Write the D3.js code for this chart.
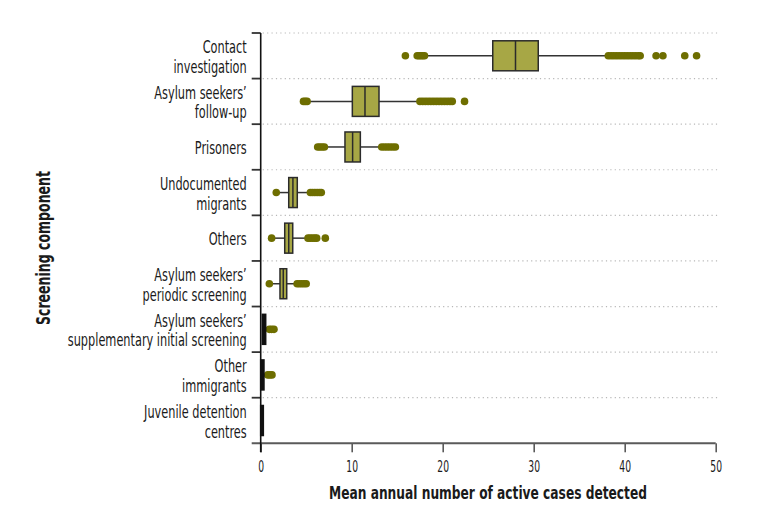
<!DOCTYPE html>
<html>
<head>
<meta charset="utf-8">
<script src="https://cdn.jsdelivr.net/npm/d3@7"></script>
<style>
  body { margin: 0; background: #fff; }
  svg { display: block; }
  text { font-family: "DejaVu Sans Condensed", "DejaVu Sans", sans-serif; fill: #1a1a1a; }
</style>
</head>
<body>
<svg id="chart" width="771" height="524"></svg>
<script>
// ---------- data ----------
const categories = [
  "Contact\ninvestigation",
  "Asylum seekers’\nfollow-up",
  "Prisoners",
  "Undocumented\nmigrants",
  "Others",
  "Asylum seekers’\nperiodic screening",
  "Asylum seekers’\nsupplementary initial screening",
  "Other\nimmigrants",
  "Juvenile detention\ncentres"
];
const whiskerLow  = [18.1, 5.2, 7.0, 1.8, 1.3, 1.0, 0.15, 0.0, 0.0];
const q1          = [25.5, 10.07, 9.26, 3.08, 2.64, 2.12, 0.18, 0.0, 0.0];
const median      = [28.0, 11.46, 10.1, 3.54, 3.08, 2.48, 0.35, 0.15, 0.1];
const q3          = [30.5, 13.0, 10.95, 4.02, 3.52, 2.86, 0.55, 0.36, 0.29];
const whiskerHigh = [38.0, 17.4, 13.2, 5.4, 5.1, 3.9, 0.8, 0.7, 0.3];
const outliers = [
  [15.9, 17.2, 17.4, 17.6, 17.8, 18.0, 38.2, 38.5, 38.8, 39.1, 39.4, 39.7, 40.0, 40.3, 40.6, 40.9, 41.2, 41.5, 41.7, 43.45, 44.2, 46.6, 47.9],
  [4.7, 4.9, 5.1, 17.5, 17.8, 18.1, 18.4, 18.7, 19.0, 19.3, 19.6, 19.9, 20.2, 20.5, 20.8, 21.05, 22.4],
  [6.26, 6.5, 6.75, 7.0, 13.3, 13.6, 13.9, 14.2, 14.5, 14.8],
  [1.71, 5.46, 5.7, 5.95, 6.2, 6.45, 6.66],
  [1.2, 5.2, 5.45, 5.7, 5.95, 6.15, 7.1],
  [0.95, 4.0, 4.25, 4.5, 4.75, 5.0],
  [0.95, 1.2, 1.46],
  [0.77, 1.0, 1.24],
  []
];
const xTicks = [0, 10, 20, 30, 40, 50];
const xTitle = "Mean annual number of active cases detected";
const yTitle = "Screening component";

// ---------- drawing ----------
const svg = d3.select("#chart");
const mLeft = 260.7, mRight = 715.7, mTop = 33, mBottom = 443.3;
const narrow = 0.70;     // horizontal condensing of category labels
const tickNarrow = 0.66; // horizontal condensing of tick labels

const x = d3.scaleLinear().domain([0, 50]).range([mLeft, mRight]);
const y = d3.scaleBand().domain(categories).range([mTop, mBottom]).padding(0);
const bw = y.bandwidth();
const boxH = 30;

const boxFill = "#a7a745";
const boxStroke = "#2b2b2b";
const outColor = "#6e6e00";

// dotted gridlines at band boundaries (not at bottom)
const bounds = categories.map(c => y(c));
svg.append("g").selectAll("line").data(bounds).join("line")
  .attr("x1", mLeft + 2).attr("x2", 718)
  .attr("y1", d => d).attr("y2", d => d)
  .attr("stroke", "#b8b8b8").attr("stroke-width", 1.2)
  .attr("stroke-dasharray", "1.2,3.2");

// y axis ticks (left) at boundaries
svg.append("g").selectAll("line").data(bounds).join("line")
  .attr("x1", mLeft - 9).attr("x2", mLeft)
  .attr("y1", d => d).attr("y2", d => d)
  .attr("stroke", "#333").attr("stroke-width", 1.8);

// x axis
const xAxis = d3.axisBottom(x).tickValues(xTicks).tickSize(9).tickPadding(9).tickFormat(d3.format("d"));
const gx = svg.append("g").attr("transform", `translate(0,${mBottom})`).call(xAxis);
gx.select(".domain").remove();
gx.append("line").attr("x1", mLeft - 9).attr("x2", mRight).attr("y1", 0).attr("y2", 0)
  .attr("stroke", "#5a5a5a").attr("stroke-width", 2);
gx.selectAll(".tick line").attr("stroke", "#5a5a5a").attr("stroke-width", 1.6);
gx.selectAll(".tick text").attr("font-size", 15.5).attr("fill", "#1a1a1a")
  .style("font-family", '"DejaVu Sans Condensed", "DejaVu Sans", sans-serif')
  .attr("transform", `scale(${tickNarrow},1)`);

// y axis line
svg.append("line").attr("x1", mLeft).attr("x2", mLeft).attr("y1", mTop).attr("y2", mBottom + 9)
  .attr("stroke", "#111").attr("stroke-width", 1.6);

// category labels
const lab = svg.append("g").attr("transform", `translate(${mLeft - 14},0) scale(${narrow},1)`);
categories.forEach(c => {
  const lines = c.split("\n");
  const cy = y(c) + bw / 2;
  const t = lab.append("text").attr("text-anchor", "end").attr("font-size", 18);
  if (lines.length === 1) {
    t.append("tspan").attr("x", 0).attr("y", cy + 6.8).text(lines[0]);
  } else {
    t.append("tspan").attr("x", 0).attr("y", cy - 2.8).text(lines[0]);
    t.append("tspan").attr("x", 0).attr("y", cy + 17).text(lines[1]);
  }
});

// boxes
const rows = categories.map((c, i) => ({c, i}));
const g = svg.append("g");
rows.forEach(({c, i}) => {
  const cy = y(c) + bw / 2;
  g.append("line").attr("x1", x(whiskerLow[i])).attr("x2", x(q1[i]))
    .attr("y1", cy).attr("y2", cy).attr("stroke", "#333").attr("stroke-width", 1.5);
  g.append("line").attr("x1", x(q3[i])).attr("x2", x(whiskerHigh[i]))
    .attr("y1", cy).attr("y2", cy).attr("stroke", "#333").attr("stroke-width", 1.5);
  g.selectAll(null).data(outliers[i]).join("circle")
    .attr("cx", d => x(d)).attr("cy", cy).attr("r", 3.8).attr("fill", outColor);
  g.append("rect").attr("x", x(q1[i])).attr("y", cy - boxH / 2)
    .attr("width", Math.max(x(q3[i]) - x(q1[i]), 2.2)).attr("height", boxH)
    .attr("fill", i >= 6 ? "#111" : boxFill).attr("stroke", i >= 6 ? "#111" : boxStroke).attr("stroke-width", 1.5);
  g.append("line").attr("x1", x(median[i])).attr("x2", x(median[i]))
    .attr("y1", cy - boxH / 2).attr("y2", cy + boxH / 2)
    .attr("stroke", i >= 6 ? "#111" : boxStroke).attr("stroke-width", 1.5);
});

// axis titles
svg.append("text").attr("x", 488).attr("y", 499)
  .attr("text-anchor", "middle").attr("font-size", 18).attr("font-weight", "bold")
  .attr("textLength", 318).attr("lengthAdjust", "spacingAndGlyphs")
  .text(xTitle);
svg.append("text").attr("transform", `translate(50,248) rotate(-90)`)
  .attr("text-anchor", "middle").attr("font-size", 19).attr("font-weight", "bold")
  .attr("textLength", 154).attr("lengthAdjust", "spacingAndGlyphs")
  .text(yTitle);
</script>
</body>
</html>
